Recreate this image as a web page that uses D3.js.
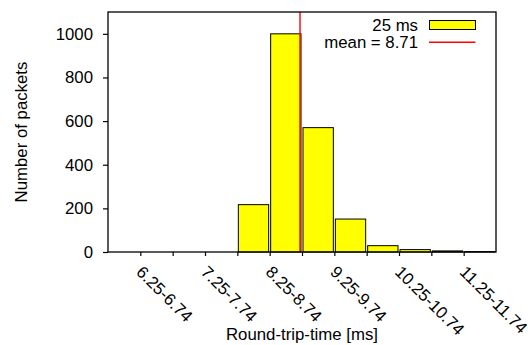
<!DOCTYPE html>
<html>
<head>
<meta charset="utf-8">
<script src="https://cdn.jsdelivr.net/npm/d3@7"></script>
<style>
  body { margin: 0; background: #fff; }
  svg { display: block; font-family: "Liberation Sans", Arial, Helvetica, sans-serif; }
  text { fill: #000; }
</style>
</head>
<body>
<div id="chart"></div>
<script>
// histogram bins (ms), 0.5 ms wide
const binStart = [6.25, 6.75, 7.25, 7.75, 8.25, 8.75, 9.25, 9.75, 10.25, 10.75, 11.25];
const binLabels = ["6.25-6.74", "6.75-7.24", "7.25-7.74", "7.75-8.24", "8.25-8.74", "8.75-9.24",
                   "9.25-9.74", "9.75-10.24", "10.25-10.74", "10.75-11.24", "11.25-11.74"];
const packets = [0, 0, 0, 217, 1000, 570, 151, 29, 11, 5, 2];
const meanRtt = 8.71;
const yTicks = [0, 200, 400, 600, 800, 1000];
const seriesName = "25 ms";

const width = 528, height = 345;
const margin = { top: 12, right: 32, bottom: 93, left: 108 };
const binWidth = 0.5;
const fontSize = 16.8;

const svg = d3.select("#chart").append("svg")
  .attr("width", width)
  .attr("height", height);

const x = d3.scaleLinear()
  .domain([5.75, 11.75])
  .range([margin.left, width - margin.right]);

const y = d3.scaleLinear()
  .domain([0, 1100])
  .range([height - margin.bottom, margin.top]);

// bars
svg.append("g")
  .selectAll("rect")
  .data(binStart.map((s, i) => ({ s: s, v: packets[i] })).filter(d => d.v > 0))
  .enter().append("rect")
    .attr("x", d => x(d.s) + 1)
    .attr("width", d => x(d.s + binWidth) - x(d.s) - 2)
    .attr("y", d => y(d.v))
    .attr("height", d => y(0) - y(d.v))
    .style("fill", "#ffff00")
    .style("stroke", "#000")
    .style("stroke-width", 1);

// mean line
const meanX = x(meanRtt) + 0.6;
svg.append("line")
  .attr("x1", meanX).attr("x2", meanX)
  .attr("y1", y.range()[1]).attr("y2", y.range()[0])
  .style("stroke", "#ff0000")
  .style("stroke-width", 1.4);

// y axis
const yAxis = svg.append("g")
  .attr("transform", "translate(" + margin.left + ",0)")
  .call(d3.axisLeft(y).tickValues(yTicks).tickSize(5).tickPadding(10).tickFormat(d3.format("d")));
yAxis.select(".domain").remove();
yAxis.selectAll("line").style("stroke", "#000").style("stroke-width", 1.2);
yAxis.selectAll("text")
  .style("font-size", fontSize + "px")
  .style("font-family", "inherit");

// x axis
const xAxis = svg.append("g")
  .attr("transform", "translate(0," + y(0) + ")")
  .call(d3.axisBottom(x).tickValues(binStart).tickSize(4).tickFormat(""));
xAxis.select(".domain").remove();
xAxis.selectAll("line").style("stroke", "#000").style("stroke-width", 1.2);

// rotated tick labels, every other bin
svg.append("g")
  .selectAll("text")
  .data(binStart.map((s, i) => ({ s: s, label: binLabels[i] })).filter((d, i) => i % 2 === 0))
  .enter().append("text")
    .attr("transform", d => "translate(" + (x(d.s) - 5) + "," + (y(0) + 21) + ") rotate(45)")
    .style("font-size", fontSize + "px")
    .text(d => d.label);

// frame
svg.append("rect")
  .attr("x", margin.left)
  .attr("y", margin.top)
  .attr("width", width - margin.left - margin.right)
  .attr("height", height - margin.top - margin.bottom)
  .style("fill", "none")
  .style("stroke", "#000")
  .style("stroke-width", 1.3);

// axis titles
svg.append("text")
  .attr("x", (margin.left + width - margin.right) / 2)
  .attr("y", 340)
  .attr("text-anchor", "middle")
  .style("font-size", fontSize + "px")
  .text("Round-trip-time [ms]");

svg.append("text")
  .attr("transform", "translate(27," + ((margin.top + height - margin.bottom) / 2) + ") rotate(-90)")
  .attr("text-anchor", "middle")
  .style("font-size", fontSize + "px")
  .text("Number of packets");

// legend
const legend = svg.append("g");
legend.append("text")
  .attr("x", 418).attr("y", 30.5)
  .attr("text-anchor", "end")
  .style("font-size", fontSize + "px")
  .text(seriesName);
legend.append("rect")
  .attr("x", 429.5).attr("y", 20.5)
  .attr("width", 46).attr("height", 9)
  .style("fill", "#ffff00")
  .style("stroke", "#000")
  .style("stroke-width", 1);
legend.append("text")
  .attr("x", 418).attr("y", 47.5)
  .attr("text-anchor", "end")
  .style("font-size", fontSize + "px")
  .text("mean = " + meanRtt);
legend.append("line")
  .attr("x1", 429).attr("x2", 475.5)
  .attr("y1", 42.3).attr("y2", 42.3)
  .style("stroke", "#ff0000")
  .style("stroke-width", 1.4);
</script>
</body>
</html>
